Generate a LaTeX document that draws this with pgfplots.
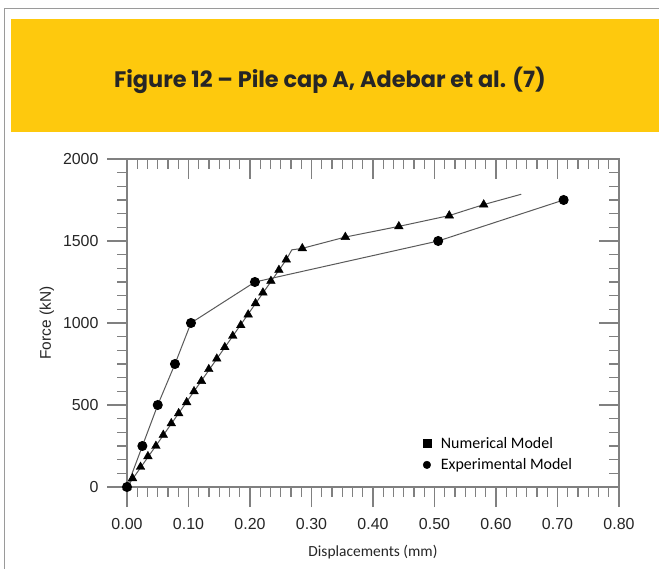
\documentclass[border=0pt]{standalone}
\usepackage{fontspec}
\setmainfont{Liberation Sans}
\newfontfamily\titlefont{Poppins}
\newfontfamily\calfont{Carlito}
\usepackage{xcolor}
\usepackage{pgfplots}
\pgfplotsset{compat=1.18}
\definecolor{banner}{HTML}{FEC90D}
\definecolor{axgray}{HTML}{808080}
\definecolor{linegray}{HTML}{5A5A5A}

% data
\pgfplotstableread{
x     y
0.000 0
0.025 250
0.050 500
0.078 750
0.104 1000
0.208 1250
0.506 1500
0.710 1750
}\experimental
\pgfplotstableread{
x     y
0.000 0
0.009 53
0.022 122
0.034 187
0.047 250
0.059 317
0.072 388
0.084 449
0.097 516
0.109 583
0.121 646
0.133 718
0.146 782
0.159 852
0.172 921
0.185 986
0.197 1051
0.209 1120
0.221 1185
0.234 1256
0.247 1323
0.259 1386
0.285 1455
0.355 1524
0.442 1589
0.524 1655
0.580 1722
}\numerical

\begin{document}
\begin{tikzpicture}[x=1bp,y=1bp]
\useasboundingbox (0,0) rectangle (659,569);
\fill[white] (0,0) rectangle (659,569);
\draw[axgray!80, line width=1bp] (4,0) -- (4,560) -- (670,560);
\fill[banner] (11,437) rectangle (670,550);
\node[font=\titlefont\bfseries\fontsize{22.5}{26}\selectfont, text=black!85] at (330,489) {Figure 12 – Pile cap A, Adebar et al. (7)};

\pgfplotsset{
  chartbase/.style={
    at={(127bp,82bp)}, anchor=south west,
    scale only axis, width=492bp, height=328bp,
    xmin=0, xmax=0.8, ymin=0, ymax=2000,
    xtick={0,0.1,...,0.8}, ytick={0,500,...,2000},
    minor x tick num=5, minor y tick num=5,
    axis line style={axgray, line width=1.3bp},
    major tick style={axgray, line width=1.3bp},
    minor tick style={axgray, line width=1.1bp},
    major tick length=20bp, minor tick length=10bp,
  }
}

\begin{axis}[chartbase,
    xtick pos=left, ytick pos=left, tick align=outside,
    xticklabel style={font=\fontsize{16}{18}\selectfont, text=black!85, yshift=-8bp},
    yticklabel style={font=\fontsize{16}{18}\selectfont, text=black!85, xshift=-5bp},
    /pgf/number format/assume math mode=true,
    xticklabel={\pgfmathprintnumber[fixed, fixed zerofill, precision=2]{\tick}},
    yticklabel={\pgfmathprintnumber[fixed, 1000 sep={}]{\tick}},
    xlabel={\calfont Displacements (mm)},
    ylabel={Force (kN)},
    xlabel style={font=\fontsize{15.5}{18}\selectfont, text=black!85, yshift=-9bp},
    ylabel style={font=\fontsize{15.5}{18}\selectfont, text=black!85, yshift=2bp},
    legend style={draw=none, fill=none, at={(0.595,0.165)}, anchor=north west,
      font=\calfont\fontsize{16}{19}\selectfont, row sep=5bp,
      /tikz/every odd column/.append style={column sep=8bp}},
    legend cell align=left,
    clip=false,
  ]
  \addlegendimage{only marks, mark=square*, mark size=4bp, black}
  \addlegendentry{Numerical Model}
  \addlegendimage{only marks, mark=*, mark size=3.8bp, black}
  \addlegendentry{Experimental Model}

  \addplot[linegray, line width=1bp, forget plot] table {
x     y
0.000 0
0.259 1386
0.268 1446
0.285 1455
0.355 1524
0.442 1589
0.524 1655
0.580 1722
0.641 1785
};
  \addplot[only marks, mark=triangle*, mark size=5bp, black, forget plot] table {\numerical};
  \addplot[linegray, line width=1bp, mark=*, mark size=4.5bp,
    mark options={fill=black, draw=black}, forget plot] table {\experimental};
\end{axis}

\begin{axis}[chartbase,
    xtick pos=right, ytick pos=right, tick align=inside,
    xticklabels={}, yticklabels={},
    axis x line*=top, axis y line*=right,
  ]
\end{axis}
\end{tikzpicture}
\end{document}
